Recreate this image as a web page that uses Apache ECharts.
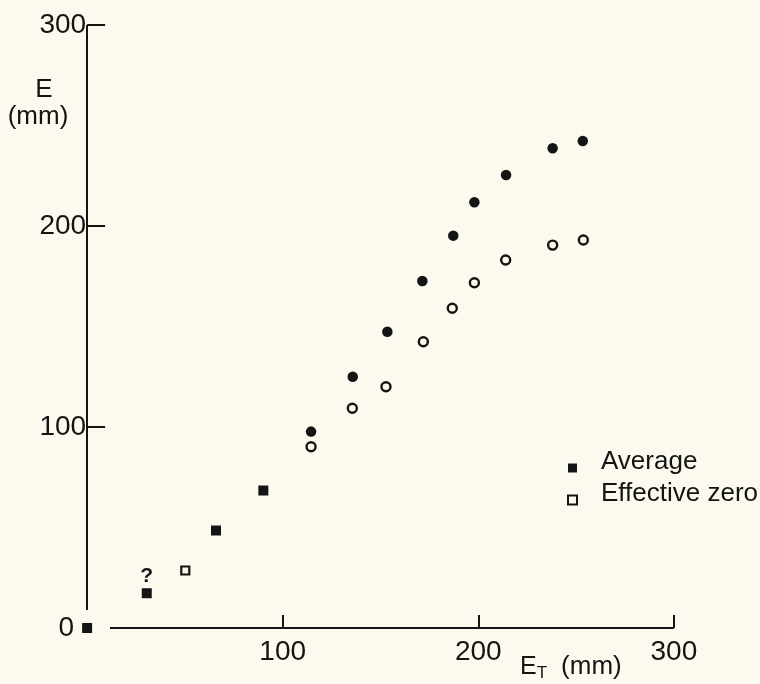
<!DOCTYPE html>
<html><head><meta charset="utf-8">
<script src="https://cdn.jsdelivr.net/npm/echarts@6/dist/echarts.min.js"></script>
<style>html,body{margin:0;padding:0;background:#fcfaef}#c{width:760px;height:684px}</style>
</head><body><div id="c"></div>
<script>
// ---- data ----
const avgSquareX = [0, 30.5, 65.9, 90.1];
const avgSquareY = [0, 17.3, 48.5, 68.4];
const avgCircleX = [114.5, 135.8, 153.5, 171.4, 187.2, 198.0, 214.2, 238.0, 253.4];
const avgCircleY = [97.7, 125.0, 147.4, 172.6, 195.2, 211.8, 225.4, 238.7, 242.3];
const zeroSquareX = [50.2];
const zeroSquareY = [28.6];
const zeroCircleX = [114.5, 135.6, 152.8, 171.9, 186.7, 198.0, 214.0, 238.0, 253.7];
const zeroCircleY = [90.2, 109.3, 120.0, 142.4, 159.1, 171.8, 183.1, 190.5, 193.0];
const xTicks = [100, 200, 300];
const xLabels = [100, 200, 300];
const yTicks = [100, 200, 300];
const yLabels = [0, 100, 200, 300];
const seriesNames = ['Average', 'Effective zero'];
const queryPointIndex = 1;   // the Average point marked with "?"
const queryText = '?';

// ---- styling ----
const ink = '#141414';
const bg = '#fcfaef';
const FF = '"Liberation Sans", Arial, sans-serif';
const zip = (xs, ys) => xs.map((x, i) => [x, ys[i]]);

const chart = echarts.init(document.getElementById('c'), null, {renderer: 'canvas'});
const option = {
  backgroundColor: bg,
  animation: false,
  grid: {left: 87.1, right: 86.1, top: 25, bottom: 56, containLabel: false},
  xAxis: {
    type: 'value', min: 0, max: 300, interval: 100,
    axisLine: {show: false}, splitLine: {show: false},
    axisTick: {show: true, inside: true, length: 13, lineStyle: {color: ink, width: 2}, customValues: xTicks},
    axisLabel: {customValues: xLabels, margin: 10, fontSize: 28, color: ink, fontFamily: FF}
  },
  yAxis: {
    type: 'value', min: 0, max: 300, interval: 100,
    axisLine: {show: false}, splitLine: {show: false},
    axisTick: {show: true, inside: true, length: 18, lineStyle: {color: ink, width: 2}, customValues: yTicks},
    axisLabel: {
      customValues: yLabels, margin: 1, fontSize: 28, color: ink, fontFamily: FF,
      formatter: v => v === 0 ? '{z|0}' : String(v),
      rich: {z: {padding: [0, 12, 0, 0], fontSize: 28, color: ink, fontFamily: FF}}
    }
  },
  legend: {
    selectedMode: false, orient: 'vertical', left: 562, top: 444,
    itemWidth: 9, itemHeight: 9, itemGap: -6,
    data: [{name: seriesNames[0], icon: 'rect'}, {name: seriesNames[1], icon: 'rect'}],
    itemStyle: {opacity: 1},
    formatter: '{t|{name}}',
    textStyle: {
      fontSize: 26, color: ink, fontFamily: FF, lineHeight: 29,
      rich: {t: {fontSize: 26, color: ink, fontFamily: FF, lineHeight: 29, padding: [0, 0, 12, 19]}}
    }
  },
  graphic: [
    {type: 'text', x: 44, y: 90, style: {text: 'E', fill: ink, font: '26px ' + FF, align: 'center', verticalAlign: 'middle'}},
    {type: 'text', x: 38, y: 117, style: {text: '(mm)', fill: ink, font: '26px ' + FF, align: 'center', verticalAlign: 'middle'}},
    {type: 'text', x: 520, y: 667, style: {
      text: '{e|E}{s|T}{m|(mm)}', verticalAlign: 'middle', align: 'left',
      rich: {
        e: {fontSize: 25, fontFamily: FF, fill: ink, color: ink, lineHeight: 30, verticalAlign: 'middle'},
        s: {fontSize: 17, fontFamily: FF, fill: ink, color: ink, lineHeight: 30, verticalAlign: 'bottom'},
        m: {fontSize: 26, fontFamily: FF, fill: ink, color: ink, lineHeight: 30, verticalAlign: 'middle', padding: [0, 0, 0, 14]}
      }
    }}
  ],
  series: [
    {
      type: 'scatter', name: seriesNames[0], symbol: 'rect', symbolSize: 10,
      itemStyle: {color: ink, opacity: 1}, emphasis: {disabled: true},
      data: zip(avgSquareX, avgSquareY).map((p, i) => i === queryPointIndex ? {
        value: p,
        label: {show: true, formatter: queryText, position: 'top', distance: 2, color: ink, fontSize: 21, fontWeight: 'bold', fontFamily: FF}
      } : p),
      markLine: {
        silent: true, symbol: ['none', 'none'], animation: false,
        label: {show: false}, emphasis: {disabled: true},
        lineStyle: {color: ink, width: 2, type: 'solid', opacity: 1},
        data: [
          [{coord: [11.7, 0]}, {coord: [300, 0]}],
          [{coord: [0, 9]}, {coord: [0, 300]}]
        ]
      }
    },
    {
      type: 'scatter', name: seriesNames[0], symbol: 'circle', symbolSize: 10.5,
      itemStyle: {color: ink, opacity: 1}, emphasis: {disabled: true},
      data: zip(avgCircleX, avgCircleY)
    },
    {
      type: 'scatter', name: seriesNames[1], symbol: 'rect', symbolSize: 8,
      itemStyle: {color: bg, borderColor: ink, borderWidth: 2.2, opacity: 1}, emphasis: {disabled: true},
      data: zip(zeroSquareX, zeroSquareY)
    },
    {
      type: 'scatter', name: seriesNames[1], symbol: 'circle', symbolSize: 9,
      itemStyle: {color: bg, borderColor: ink, borderWidth: 2.4, opacity: 1}, emphasis: {disabled: true},
      data: zip(zeroCircleX, zeroCircleY)
    }
  ]
};
chart.setOption(option);
</script>
</body></html>
